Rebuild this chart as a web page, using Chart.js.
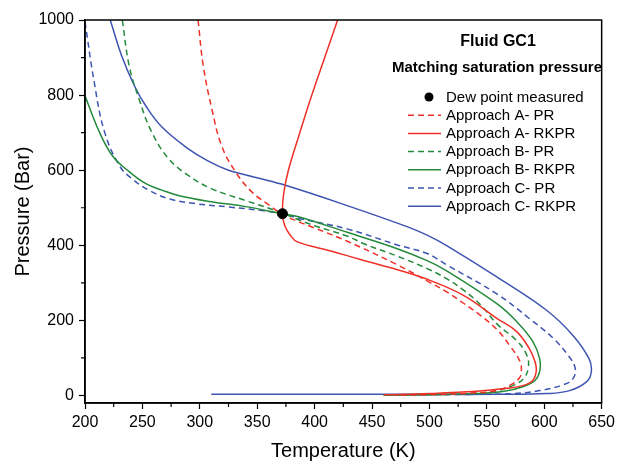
<!DOCTYPE html>
<html>
<head>
<meta charset="utf-8">
<script src="https://cdn.jsdelivr.net/npm/chart.js@4/dist/chart.umd.min.js"></script>
<style>
html,body{margin:0;padding:0;background:#fff;}
canvas{display:block;}
</style>
</head>
<body>
<canvas id="c" width="619" height="463"></canvas>
<script>
// ---- Data (Temperature K, Pressure Bar) ----
const dewT = [372];
const dewP = [484];

const aPR_T = [298.5,303,310.5,319,331,345,360,372,386,400,429,472,501,515,530,545,559,570,579,580,578,570,559,540,510,470];
const aPR_P = [1000,878,763,665,596,543,508,482,463,446,410,348,300,276,245,212,175,133,90,64,45,27,13,7,3,1];

const aRK_T = [420,409,397,386,377,373,372,374,379,385,414,440,472,501,530,559,576,587,592,593,590,582,567,541,500,460];
const aRK_P = [1000,902,795,689,598,537,484,452,426,409,385,362,335,306,266,205,170,125,90,64,40,27,19,11,5,2];

const bPR_T = [232.5,238.5,247,258,273,290.5,310,340,372,386,400,429,443,472,498,515,530,545,559,576,585,586,582,573,559,540,500,460];
const bPR_P = [1000,878,790,702,630,585,551,519,486,468,452,424,404,371,338,311,280,240,190,146,106,72,45,27,13,6,2,1];

const bRK_T = [200,212.5,224,238.5,253,267,282,310,340,372,386,429,472,498,515,559,576,590,596,596,592,582,565,540,500,460];
const bRK_P = [798,702,638,596,564,547,532,516,503,484,476,434,391,359,332,244,197,144,98,64,40,24,11,5,2,1];

const cPR_T = [200,208,217,230,241,256,273,296,325,353,372,386,429,472,498,515,559,587,608,621,627,625,617,596,573,540,500,460];
const cPR_P = [995,835,702,612,577,546,524,511,502,493,484,472,443,401,378,348,270,205,152,106,72,45,29,13,5,3,2,1];

const cRK_T = [222,232,243,253,267,290,307,325,342,371,429,481,498,515,559,602,625,639,641,637,622,602,560,500,400,310];
const cRK_P = [1000,904,825,771,715,657,625,600,586,563,505,449,427,399,315,227,160,98,64,37,13,5,3,3,3,3];

const xTicksMajor = [200,250,300,350,400,450,500,550,600,650];
const yTicksMajor = [0,200,400,600,800,1000];

const legendTitle = 'Fluid GC1';
const legendSubtitle = 'Matching saturation pressure';

const RED = 'rgb(238,48,40)';
const GREEN = 'rgb(36,138,60)';
const BLUE = 'rgb(62,84,178)';

function pts(T, P){ return T.map((t,i)=>({x:t, y:P[i]})); }

function curve(label, T, P, color, dashed){
  return {
    label, data: pts(T,P), showLine: true, borderColor: color, backgroundColor: color,
    borderWidth: 1.5, borderDash: dashed ? [6,4] : [], pointRadius: 0, tension: 0.4, fill: false
  };
}

const datasets = [
  {label:'Dew point measured', data: pts(dewT, dewP), showLine:false, pointRadius:5,
   pointBackgroundColor:'#000', pointBorderColor:'#000', backgroundColor:'#000', borderColor:'#000'},
  curve('Approach A- PR', aPR_T, aPR_P, RED, true),
  curve('Approach A- RKPR', aRK_T, aRK_P, RED, false),
  curve('Approach B- PR', bPR_T, bPR_P, GREEN, true),
  curve('Approach B- RKPR', bRK_T, bRK_P, GREEN, false),
  curve('Approach C- PR', cPR_T, cPR_P, BLUE, true),
  curve('Approach C- RKPR', cRK_T, cRK_P, BLUE, false)
];

const FONT = 'Liberation Sans, Arial, sans-serif';

const decoPlugin = {
  id: 'deco',
  afterDraw(chart){
    const ctx = chart.ctx, ca = chart.chartArea;
    const xs = chart.scales.x, ys = chart.scales.y;
    ctx.save();
    // frame
    ctx.strokeStyle = '#000'; ctx.lineWidth = 1.5; ctx.setLineDash([]);
    ctx.strokeRect(ca.left, ca.top, ca.right - ca.left, ca.bottom - ca.top);
    // minor ticks
    ctx.lineWidth = 1.2;
    ctx.beginPath();
    for (let i = 0; i < xTicksMajor.length - 1; i++){
      const v = (xTicksMajor[i] + xTicksMajor[i+1]) / 2;
      const px = xs.getPixelForValue(v);
      ctx.moveTo(px, ca.bottom); ctx.lineTo(px, ca.bottom + 4);
    }
    for (let i = 0; i < yTicksMajor.length - 1; i++){
      const v = (yTicksMajor[i] + yTicksMajor[i+1]) / 2;
      const py = ys.getPixelForValue(v);
      ctx.moveTo(ca.left, py); ctx.lineTo(ca.left - 4, py);
    }
    ctx.stroke();
    // legend titles
    ctx.fillStyle = '#000';
    ctx.textAlign = 'center'; ctx.textBaseline = 'middle';
    ctx.font = 'bold 16px ' + FONT;
    ctx.fillText(legendTitle, 498, 42);
    ctx.font = 'bold 15px ' + FONT;
    ctx.fillText(legendSubtitle, 497, 68);
    // legend items
    ctx.font = '15px ' + FONT;
    ctx.textAlign = 'left';
    chart.data.datasets.forEach((ds, i) => {
      const y = 97 + i * 18.2;
      if (!ds.showLine){
        ctx.fillStyle = ds.pointBackgroundColor;
        ctx.beginPath(); ctx.arc(429, y, 4.5, 0, Math.PI*2); ctx.fill();
      } else {
        ctx.strokeStyle = ds.borderColor; ctx.lineWidth = 1.5;
        ctx.setLineDash(ds.borderDash || []);
        ctx.beginPath(); ctx.moveTo(408, y); ctx.lineTo(441, y); ctx.stroke();
        ctx.setLineDash([]);
      }
      ctx.fillStyle = '#000';
      ctx.fillText(ds.label, 446, y + 0.5);
    });
    ctx.restore();
  }
};

new Chart(document.getElementById('c'), {
  type: 'scatter',
  data: { datasets },
  plugins: [decoPlugin],
  options: {
    responsive: false,
    animation: false,
    devicePixelRatio: 1,
    layout: { padding: { left: 0, right: 11.5, top: 20, bottom: 0 } },
    plugins: { legend: { display: false }, tooltip: { enabled: false } },
    scales: {
      x: {
        type: 'linear', min: 200, max: 650,
        afterFit(s){ s.height = 60; },
        afterBuildTicks(s){ s.ticks = xTicksMajor.map(v => ({value: v})); },
        ticks: { color: '#000', font: { family: FONT, size: 16 }, padding: 4, maxRotation: 0, autoSkip: false,
                 callback: v => String(v) },
        grid: { drawOnChartArea: false, drawTicks: true, tickLength: 6, color: '#000', tickWidth: 1.2 },
        border: { display: true, color: '#000', width: 1.5 },
        title: { display: true, text: 'Temperature (K)', color: '#000', font: { family: FONT, size: 20 }, padding: { top: 0, bottom: 0 } }
      },
      y: {
        type: 'linear', min: -20, max: 1000,
        afterFit(s){ s.width = 85; },
        afterBuildTicks(s){ s.ticks = yTicksMajor.map(v => ({value: v})); },
        ticks: { color: '#000', font: { family: FONT, size: 16 }, padding: 5, autoSkip: false,
                 callback: v => String(v) },
        grid: { drawOnChartArea: false, drawTicks: true, tickLength: 6, color: '#000', tickWidth: 1.2 },
        border: { display: true, color: '#000', width: 1.5 },
        title: { display: true, text: 'Pressure (Bar)', color: '#000', font: { family: FONT, size: 20 }, padding: { top: 11, bottom: 0 } }
      }
    }
  }
});
</script>
</body>
</html>
